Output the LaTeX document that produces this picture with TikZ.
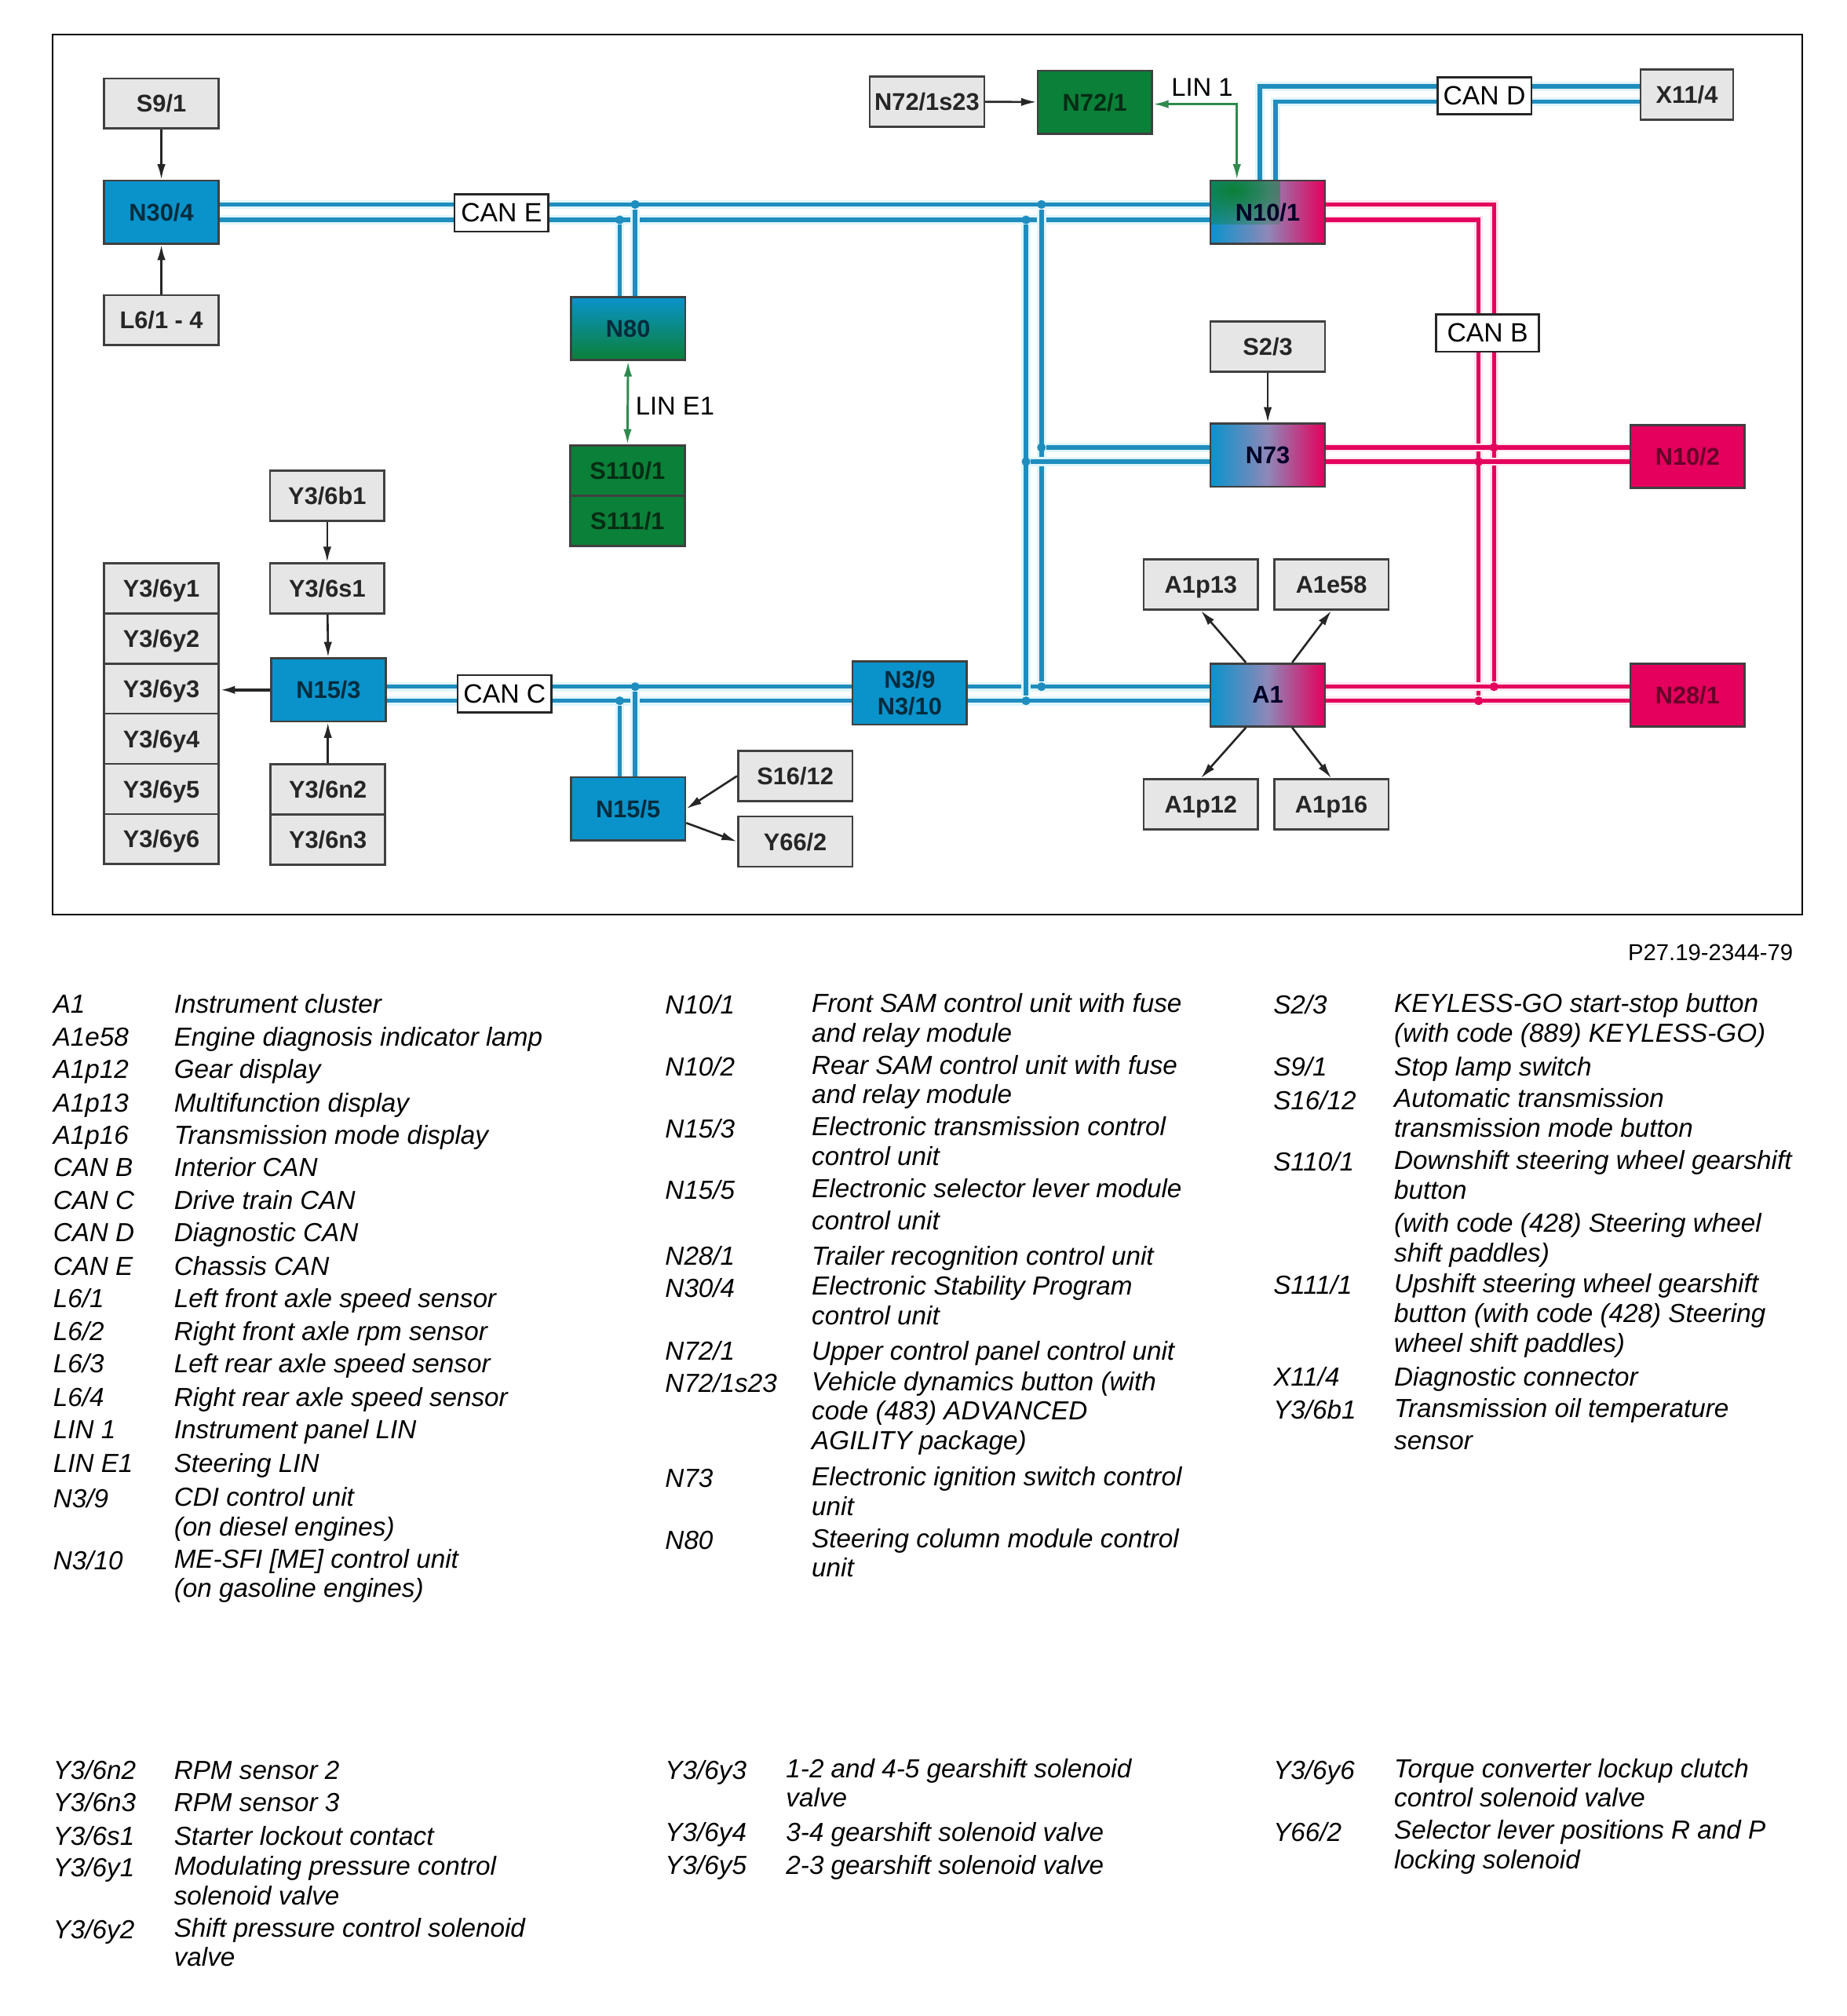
\documentclass[tikz,border=0pt]{standalone}
\usepackage{fontspec}
\setmainfont{Liberation Sans}
\usetikzlibrary{arrows.meta,backgrounds,fadings}
\definecolor{canblue}{HTML}{1F8DBE}
\definecolor{boxblue}{HTML}{0A93CB}
\definecolor{boxgreen}{HTML}{0B8038}
\definecolor{boxpink}{HTML}{E4005C}
\definecolor{boxgrey}{HTML}{E6E6E6}
\definecolor{boxlilac}{HTML}{8E88B8}
\definecolor{linegreen}{HTML}{2F8A4E}
\tikzfading[name=fadecorner, inner color=transparent!0, outer color=transparent!100]
\begin{document}
\begin{tikzpicture}[
		x=0.5pt, y=-0.5pt, node distance=19.5pt, >={Latex[length=6pt,width=3.2pt]},
		basebox/.style={rectangle,draw=black!75,line width=0.8pt,inner sep=0pt,minimum width=44.5pt,font=\fontsize{9.4}{10.5}\selectfont\bfseries,align=center},
		greybox/.style={basebox,fill=boxgrey,minimum height=19.5pt,text=black!85,text height=6.8pt,text depth=0pt},
		bluebox/.style={basebox,fill=boxblue,minimum height=24.5pt,text=black!70!boxblue},
		tealbox/.style={basebox,top color=boxblue,bottom color=boxgreen,minimum height=24.5pt,text=black!70!boxblue},
		greenbox/.style={basebox,fill=boxgreen,minimum height=24.5pt,text=black!65!boxgreen},
		pinkbox/.style={basebox,fill=boxpink,minimum height=24.5pt,text=black!55!boxpink},
		mixbox/.style={basebox,left color=boxblue,right color=boxpink,middle color=boxlilac,minimum height=24.5pt,text=black!85!blue},
		cornerbox/.style={mixbox,path picture={\fill[boxgreen,path fading=fadecorner]
			([shift={(-27pt,17pt)}]path picture bounding box.north west) rectangle ([shift={(27pt,-17pt)}]path picture bounding box.north west);}},
		canlabel/.style={rectangle,draw=black!85,fill=white,line width=0.8pt,inner sep=0pt,minimum width=36.5pt,minimum height=14.5pt,font=\fontsize{10.3}{11}\selectfont},
		linlabel/.style={inner sep=0pt,font=\fontsize{10}{11}\selectfont},
		busblue/.style={draw=canblue,line width=1.7pt,preaction={draw=cyan!12,line width=3.6pt}},
		buspink/.style={draw=boxpink,line width=1.7pt,preaction={draw=boxpink!10,line width=3.2pt}},
		linwire/.style={draw=linegreen,line width=0.9pt},
		sigwire/.style={draw=black!85,line width=0.8pt},
		junction/.style={circle,inner sep=0pt,minimum size=3.4pt},
		legkey/.style={anchor=north west,inner sep=0pt,yshift=4.4pt,align=left,font=\fontsize{10.15}{11.5}\selectfont\itshape,execute at begin node=\strut},
		legtxt/.style={legkey}
		]
		\useasboundingbox (0,0) rectangle (1436.5,1567.8);
		\draw[black,line width=0.6pt] (41,27) rectangle (1402,711);

		% left column of units
		\node[greybox](S91) at (125.5,80.5){S9/1};
		\node[bluebox, below of = S91, yshift = -22.75pt](N304){N30/4};
		\node[greybox, below of = N304, yshift = -22.5pt](L61){L6/1 - 4};
		\node[greybox](Y36y1) at (125.5,457.5){Y3/6y1};
		\node[greybox, below of = Y36y1](Y36y2){Y3/6y2};
		\node[greybox, below of = Y36y2](Y36y3){Y3/6y3};
		\node[greybox, below of = Y36y3](Y36y4){Y3/6y4};
		\node[greybox, below of = Y36y4](Y36y5){Y3/6y5};
		\node[greybox, below of = Y36y5](Y36y6){Y3/6y6};
		\node[greybox](Y36b1) at (254.5,385.5){Y3/6b1};
		\node[greybox](Y36s1) at (254.5,457.5){Y3/6s1};
		\node[bluebox](N153) at (255.5,536.5){N15/3};
		\node[greybox](Y36n2) at (255,614){Y3/6n2};
		\node[greybox, below of = Y36n2](Y36n3){Y3/6n3};

		% middle
		\node[tealbox](N80) at (488.5,255.5){N80};
		\node[greybox,fill=boxgreen,text=black!65!boxgreen](S1101) at (488,366){S110/1};
		\node[greybox,fill=boxgreen,text=black!65!boxgreen, below of = S1101](S1111){S111/1};
		\node[bluebox](N155) at (488.5,629){N15/5};
		\node[greybox](S1612) at (618.5,603.5){S16/12};
		\node[greybox](Y662) at (618.5,654.5){Y66/2};
		\node[bluebox](N39) at (707.5,539){N3/9\\N3/10};
		\node[greybox](N721s) at (721,79){N72/1s23};
		\node[greenbox](N721) at (851.5,79.5){N72/1};

		% right
		\node[cornerbox](N101) at (986,165){N10/1};
		\node[greybox](S23) at (986,269.5){S2/3};
		\node[mixbox](N73) at (986,354){N73};
		\node[mixbox](A1) at (986,540.5){A1};
		\node[greybox](A1p13) at (934,454.5){A1p13};
		\node[greybox](A1e58) at (1035.5,454.5){A1e58};
		\node[greybox](A1p12) at (934,625.5){A1p12};
		\node[greybox](A1p16) at (1035.5,625.5){A1p16};
		\node[greybox,minimum width=36pt](X114) at (1312,73.5){X11/4};
		\node[pinkbox](N102) at (1312.5,355){N10/2};
		\node[pinkbox](N281) at (1312.5,540.5){N28/1};

		% bus labels
		\node[canlabel](CANE) at (390,165.5){CAN E};
		\node[canlabel](CANC) at (392.5,539.5){CAN C};
		\node[canlabel](CAND) at (1154.5,74.5){CAN D};
		\node[canlabel,minimum width=40pt](CANB) at (1157,259){CAN B};
		\node[linlabel](LIN1) at (935,68){LIN 1};
		\node[linlabel](LINE1) at (525,316){LIN E1};

		% junctions
		\node[junction,fill=canblue](ja) at (810,159){};
		\node[junction,fill=canblue](jb) at (798,171){};
		\node[junction,fill=canblue](jc) at (810,348){};
		\node[junction,fill=canblue](jd) at (798,359){};
		\node[junction,fill=canblue](je) at (810,534){};
		\node[junction,fill=canblue](jf) at (798,545){};
		\node[junction,fill=canblue](jg) at (494,159){};
		\node[junction,fill=canblue](jh) at (482,171){};
		\node[junction,fill=canblue](ji) at (494,534){};
		\node[junction,fill=canblue](jj) at (482,545){};
		\node[junction,fill=boxpink](jk) at (1162,348){};
		\node[junction,fill=boxpink](jl) at (1150,359){};
		\node[junction,fill=boxpink](jm) at (1162,534){};
		\node[junction,fill=boxpink](jn) at (1150,545){};
		\coordinate (cd1) at (980,67);
		\coordinate (cd2) at (992,79);
		\coordinate (cb1) at (1162,159);
		\coordinate (cb2) at (1150,171);
		\coordinate (lin1) at (962,81);

		\begin{scope}[on background layer]
			\draw[busblue] (N304.east |- ja) -- (N101.west |- ja);
			\draw[busblue] (N304.east |- jb) -- (N101.west |- jb);
			\draw[busblue] (N153.east |- ji) -- (N39.west |- ji);
			\draw[busblue] (N153.east |- jj) -- (N39.west |- jj);
			\draw[busblue] (N39.east |- je) -- (A1.west |- je);
			\draw[busblue] (N39.east |- jf) -- (A1.west |- jf);
			\draw[busblue] (ja) -- (je);
			\draw[busblue] (jb) -- (jf);
			\draw[busblue] (jc) -- (N73.west |- jc);
			\draw[busblue] (jd) -- (N73.west |- jd);
			\draw[busblue] (jg) -- (jg |- N80.north);
			\draw[busblue] (jh) -- (jh |- N80.north);
			\draw[busblue] (ji) -- (ji |- N155.north);
			\draw[busblue] (jj) -- (jj |- N155.north);
			\draw[busblue] (cd1 |- N101.north) -- (cd1) -- (X114.west |- cd1);
			\draw[busblue] (cd2 |- N101.north) -- (cd2) -- (X114.west |- cd2);
			\draw[buspink] (N101.east |- cb1) -- (cb1) -- (jm);
			\draw[buspink] (N101.east |- cb2) -- (cb2) -- (jn);
			\draw[buspink] (N73.east |- jk) -- (N102.west |- jk);
			\draw[buspink] (N73.east |- jl) -- (N102.west |- jl);
			\draw[buspink] (A1.east |- jm) -- (N281.west |- jm);
			\draw[buspink] (A1.east |- jn) -- (N281.west |- jn);
		\end{scope}

		\draw[<->,linwire] (N721.east |- lin1) -- (lin1) -- (lin1 |- N101.north);
		\draw[<->,linwire] (N80.south) -- (S1101.north);

		\draw[->,sigwire] (S91) -- (N304);
		\draw[->,sigwire] (L61) -- (N304);
		\draw[->,sigwire] (N721s) -- (N721);
		\draw[->,sigwire] (S23) -- (N73);
		\draw[->,sigwire] (Y36b1) -- (Y36s1);
		\draw[->,sigwire] (Y36s1) -- (N153);
		\draw[->,sigwire] (Y36n2.north) -- (Y36n2.north |- N153.south);
		\draw[->,sigwire,line width=1.1pt] (N153.west) -- (Y36y3.east |- N153.west);
		\draw[->,sigwire] (S1612.west) -- (N155.east);
		\draw[->,sigwire] ([yshift=-5.5pt]N155.east) -- (Y662.west);
		\draw[->,sigwire] ([xshift=-8.5pt]A1.north) -- (A1p13.south);
		\draw[->,sigwire] ([xshift=9.5pt]A1.north) -- (A1e58.south);
		\draw[->,sigwire] ([xshift=-8.5pt]A1.south) -- (A1p12.north);
		\draw[->,sigwire] ([xshift=9.5pt]A1.south) -- (A1p16.north);

		\node[anchor=east,inner sep=0pt,font=\fontsize{8.95}{11}\selectfont](code) at (1395,741){P27.19-2344-79};

		% legend
		\foreach \ypos/\key/\txt in {
			780/A1/Instrument cluster,
			806/A1e58/Engine diagnosis indicator lamp,
			831/A1p12/Gear display,
			857/A1p13/Multifunction display,
			882/A1p16/Transmission mode display,
			907/CAN B/Interior CAN,
			933/CAN C/Drive train CAN,
			958/CAN D/Diagnostic CAN,
			984/CAN E/Chassis CAN,
			1009/{L6/1}/Left front axle speed sensor,
			1035/{L6/2}/Right front axle rpm sensor,
			1060/{L6/3}/Left rear axle speed sensor,
			1086/{L6/4}/Right rear axle speed sensor,
			1111/LIN 1/Instrument panel LIN,
			1137/LIN E1/Steering LIN,
			1165/{N3/9}/CDI control unit\\(on diesel engines),
			1213/{N3/10}/ME-SFI [ME] control unit\\(on gasoline engines),
			1376/{Y3/6n2}/RPM sensor 2,
			1401/{Y3/6n3}/RPM sensor 3,
			1427/{Y3/6s1}/Starter lockout contact,
			1452/{Y3/6y1}/Modulating pressure control\\solenoid valve,
			1500/{Y3/6y2}/Shift pressure control solenoid\\valve}{
			\node[legkey](ka\ypos) at (41,\ypos){\key};
			\node[legtxt](ta\ypos) at (135,\ypos){\txt};
		}
		\foreach \ypos/\key/\txt in {
			781/{N10/1}/Front SAM control unit with fuse\\and relay module,
			829/{N10/2}/Rear SAM control unit with fuse\\and relay module,
			877/{N15/3}/Electronic transmission control\\control unit,
			925/{N15/5}/Electronic selector lever module\\[1pt]control unit,
			976/{N28/1}/Trailer recognition control unit,
			1001/{N30/4}/Electronic Stability Program\\control unit,
			1050/{N72/1}/Upper control panel control unit,
			1075/{N72/1s23}/Vehicle dynamics button (with\\code (483) ADVANCED\\AGILITY package),
			1149/N73/Electronic ignition switch control\\unit,
			1197/N80/Steering column module control\\unit}{
			\node[legkey](kb\ypos) at (517,\ypos){\key};
			\node[legtxt](tb\ypos) at (631,\ypos){\txt};
		}
		\foreach \ypos/\key/\txt in {
			1376/{Y3/6y3}/1-2 and 4-5 gearshift solenoid\\valve,
			1424/{Y3/6y4}/3-4 gearshift solenoid valve,
			1450/{Y3/6y5}/2-3 gearshift solenoid valve}{
			\node[legkey](kc\ypos) at (517,\ypos){\key};
			\node[legtxt](tc\ypos) at (611,\ypos){\txt};
		}
		\foreach \ypos/\key/\txt in {
			781/{S2/3}/KEYLESS-GO start-stop button\\(with code (889) KEYLESS-GO),
			829/{S9/1}/Stop lamp switch,
			855/{S16/12}/Automatic transmission\\transmission mode button,
			903/{S110/1}/Downshift steering wheel gearshift\\button\\[1.5pt](with code (428) Steering wheel\\shift paddles),
			999/{S111/1}/Upshift steering wheel gearshift\\button (with code (428) Steering\\wheel shift paddles),
			1070/{X11/4}/Diagnostic connector,
			1096/{Y3/6b1}/Transmission oil temperature\\[1pt]sensor,
			1376/{Y3/6y6}/Torque converter lockup clutch\\control solenoid valve,
			1424/{Y66/2}/Selector lever positions R and P\\locking solenoid}{
			\node[legkey](kd\ypos) at (990,\ypos){\key};
			\node[legtxt](td\ypos) at (1084,\ypos){\txt};
		}
	\end{tikzpicture}
\end{document}
